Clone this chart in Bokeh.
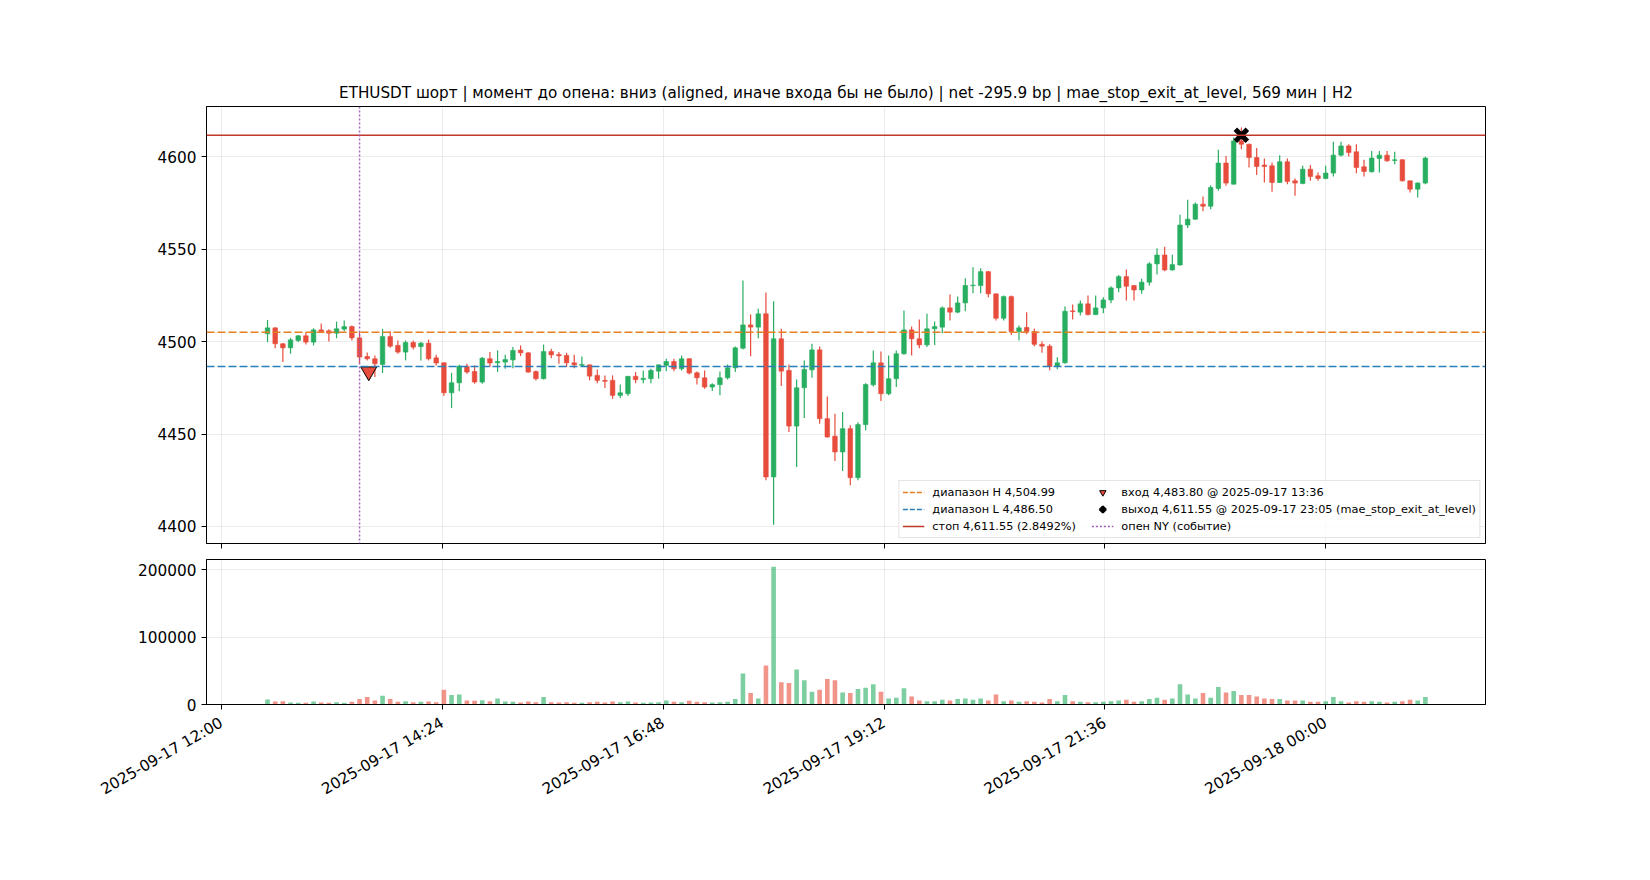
import math
import pandas as pd
from bokeh.plotting import figure
from bokeh.models import (ColumnDataSource, Range1d, FixedTicker, Span, Legend,
                          LegendItem, BasicTickFormatter)
from bokeh.layouts import column
from bokeh.embed import file_html
from bokeh.resources import INLINE

FONT = "DejaVu Sans"

# ---------------- data ----------------
first_bar = "2025-09-17 12:30"
n_bars = 152
bar_minutes = 5

opens = [4504.2, 4507.4, 4498.8, 4496.6, 4500.6, 4503.1, 4499.7, 4506.3, 4505.8, 4504.5,
         4506.7, 4508.1, 4502.0, 4491.9, 4490.7, 4487.6, 4502.7, 4497.9, 4494.3, 4499.5,
         4497.3, 4499.1, 4491.2, 4488.5, 4472.3, 4477.7, 4486.6, 4483.8, 4478.1, 4490.7,
         4488.5, 4488.9, 4490.1, 4495.4, 4493.9, 4483.8, 4479.9, 4494.6, 4493.0, 4492.5,
         4488.5, 4487.1, 4487.4, 4481.7, 4479.0, 4479.0, 4470.9, 4471.8, 4481.2, 4479.4,
         4479.9, 4484.0, 4487.1, 4489.2, 4485.3, 4490.7, 4483.1, 4480.4, 4475.4, 4476.7,
         4480.4, 4485.8, 4496.4, 4509.0, 4507.8, 4515.0, 4426.8, 4501.5, 4484.4, 4454.3,
         4475.0, 4484.7, 4495.5, 4458.3, 4448.8, 4440.3, 4452.9, 4426.4, 4455.1, 4476.6,
         4488.5, 4471.8, 4479.9, 4493.4, 4506.3, 4501.5, 4498.2, 4506.9, 4507.8, 4518.2,
         4515.9, 4520.9, 4530.2, 4530.3, 4537.8, 4525.8, 4512.6, 4524.3, 4505.4, 4507.6,
         4505.4, 4498.5, 4497.5, 4486.5, 4488.5, 4516.6, 4515.9, 4520.4, 4514.6, 4518.2,
         4522.5, 4529.0, 4535.1, 4530.3, 4527.9, 4532.1, 4542.0, 4546.8, 4538.7, 4541.4,
         4563.0, 4566.2, 4574.3, 4573.2, 4582.8, 4596.5, 4585.1, 4608.5, 4606.7, 4599.5,
         4595.4, 4595.0, 4586.0, 4597.2, 4586.9, 4585.5, 4593.2, 4589.6, 4588.2, 4591.1,
         4600.8, 4605.8, 4602.6, 4594.5, 4591.8, 4599.0, 4600.8, 4597.9, 4598.3, 4586.9,
         4582.4, 4585.7]
highs = [4511.7, 4507.8, 4499.2, 4502.0, 4503.5, 4504.9, 4507.2, 4509.7, 4506.7, 4510.8,
         4511.4, 4508.7, 4505.1, 4494.1, 4492.5, 4506.9, 4505.6, 4500.6, 4500.6, 4500.6,
         4499.7, 4501.1, 4492.8, 4488.8, 4483.1, 4487.4, 4488.0, 4487.1, 4491.6, 4494.3,
         4495.2, 4492.8, 4497.0, 4497.9, 4494.2, 4484.4, 4498.4, 4496.1, 4494.3, 4493.9,
         4492.8, 4491.9, 4487.6, 4484.9, 4481.7, 4481.7, 4476.8, 4481.3, 4483.5, 4484.4,
         4485.3, 4487.6, 4490.7, 4490.7, 4492.5, 4491.0, 4483.8, 4484.4, 4477.5, 4483.8,
         4487.6, 4497.3, 4533.0, 4514.6, 4517.7, 4526.5, 4521.8, 4506.9, 4487.6, 4479.5,
         4489.8, 4498.8, 4497.3, 4470.3, 4461.0, 4461.9, 4454.7, 4456.3, 4477.5, 4495.2,
         4494.6, 4492.5, 4495.2, 4516.8, 4508.1, 4511.9, 4515.0, 4510.8, 4518.9, 4525.4,
         4524.3, 4534.2, 4540.2, 4539.6, 4538.1, 4526.0, 4524.9, 4524.9, 4508.7, 4515.9,
         4507.0, 4500.0, 4498.5, 4491.5, 4518.9, 4520.0, 4522.2, 4524.9, 4524.9, 4524.0,
         4529.9, 4536.0, 4538.9, 4530.5, 4533.9, 4542.9, 4550.4, 4551.3, 4547.0, 4568.6,
         4576.7, 4575.2, 4578.5, 4584.5, 4603.7, 4600.4, 4610.3, 4615.7, 4606.9, 4604.6,
         4599.0, 4596.8, 4600.8, 4599.0, 4588.2, 4595.0, 4595.4, 4591.4, 4595.0, 4608.0,
         4608.0, 4606.7, 4606.7, 4598.3, 4603.1, 4603.1, 4603.1, 4602.6, 4598.6, 4587.0,
         4586.1, 4599.9]
lows = [4499.7, 4496.4, 4488.9, 4493.4, 4499.7, 4498.4, 4497.9, 4505.0, 4500.0, 4501.8,
        4505.6, 4500.6, 4488.0, 4489.8, 4480.8, 4483.0, 4496.6, 4493.4, 4489.8, 4495.7,
        4489.8, 4489.8, 4487.1, 4470.5, 4464.0, 4473.1, 4482.6, 4477.2, 4477.2, 4486.2,
        4483.5, 4485.3, 4485.6, 4492.1, 4483.1, 4479.0, 4479.5, 4491.0, 4488.0, 4486.2,
        4485.6, 4486.7, 4479.0, 4477.5, 4474.9, 4469.0, 4469.5, 4470.5, 4477.5, 4477.5,
        4477.5, 4479.9, 4484.0, 4484.0, 4484.4, 4482.2, 4476.8, 4474.5, 4473.2, 4470.9,
        4479.5, 4483.5, 4495.7, 4492.1, 4501.8, 4425.0, 4401.0, 4475.9, 4451.1, 4432.2,
        4458.7, 4480.4, 4455.6, 4448.0, 4435.4, 4430.0, 4422.3, 4425.0, 4452.0, 4475.7,
        4467.8, 4470.9, 4475.4, 4492.8, 4492.5, 4496.4, 4497.0, 4498.2, 4504.5, 4511.4,
        4515.3, 4516.4, 4526.1, 4526.1, 4524.0, 4511.4, 4511.4, 4503.6, 4500.6, 4504.0,
        4497.5, 4494.0, 4484.5, 4485.0, 4488.0, 4511.9, 4514.1, 4514.1, 4514.4, 4515.3,
        4520.7, 4526.7, 4522.2, 4522.2, 4525.8, 4530.3, 4536.2, 4538.0, 4538.4, 4541.1,
        4561.4, 4565.9, 4570.5, 4571.5, 4581.5, 4584.2, 4585.1, 4604.0, 4594.1, 4590.0,
        4586.0, 4581.0, 4585.7, 4585.1, 4578.8, 4585.1, 4586.9, 4586.9, 4587.8, 4589.3,
        4600.1, 4600.1, 4591.0, 4589.3, 4591.4, 4591.4, 4597.2, 4595.9, 4586.6, 4580.6,
        4577.9, 4585.1]
closes = [4507.4, 4498.8, 4496.6, 4500.9, 4503.1, 4499.7, 4506.3, 4505.4, 4504.5, 4506.9,
          4508.1, 4502.0, 4491.6, 4490.7, 4488.0, 4502.7, 4497.5, 4494.3, 4499.5, 4497.0,
          4499.1, 4490.7, 4488.4, 4472.3, 4477.7, 4486.7, 4483.5, 4478.1, 4491.0, 4488.4,
          4489.2, 4490.3, 4495.2, 4493.9, 4483.5, 4479.9, 4494.6, 4492.8, 4492.3, 4488.5,
          4487.4, 4487.6, 4481.3, 4479.0, 4478.5, 4470.9, 4472.3, 4481.2, 4479.4, 4480.1,
          4484.4, 4487.4, 4489.2, 4485.3, 4490.7, 4483.0, 4480.4, 4475.4, 4476.7, 4480.4,
          4485.8, 4496.6, 4509.0, 4507.8, 4515.0, 4426.8, 4501.5, 4484.0, 4454.3, 4475.0,
          4484.9, 4495.5, 4458.3, 4448.4, 4440.3, 4452.9, 4426.4, 4455.1, 4476.8, 4488.5,
          4471.8, 4479.9, 4493.4, 4506.3, 4501.5, 4498.2, 4506.9, 4508.1, 4518.2, 4515.9,
          4520.9, 4530.3, 4530.5, 4537.8, 4525.8, 4512.6, 4524.3, 4505.4, 4507.4, 4505.4,
          4498.5, 4497.5, 4486.5, 4488.5, 4516.4, 4516.2, 4520.4, 4514.6, 4518.2, 4522.5,
          4529.0, 4535.1, 4529.9, 4527.9, 4532.1, 4542.0, 4546.8, 4538.7, 4541.6, 4563.0,
          4566.2, 4574.3, 4573.2, 4583.3, 4596.5, 4585.7, 4608.5, 4606.7, 4599.5, 4594.7,
          4594.7, 4586.0, 4597.2, 4586.6, 4585.7, 4593.2, 4589.3, 4588.2, 4591.1, 4600.8,
          4605.8, 4602.2, 4594.1, 4592.0, 4599.2, 4600.8, 4597.7, 4598.3, 4586.9, 4582.4,
          4585.7, 4599.2]
volumes = [7500, 4500, 5000, 3000, 2500, 2500, 4500, 3000, 2500, 3500,
           2500, 4000, 8000, 11000, 6000, 13000, 8000, 4000, 5000, 3500,
           4000, 4500, 3500, 22000, 14000, 15000, 6000, 5500, 6500, 5000,
           9000, 4500, 4000, 3000, 4500, 3500, 11000, 3500, 3000, 3500,
           2500, 2500, 3500, 4000, 3000, 4500, 3500, 4500, 3000, 2500,
           3000, 3500, 6000, 4000, 3500, 5500, 4000, 3500, 3000, 3500,
           4000, 8000, 46000, 17000, 9000, 58000, 205000, 33000, 32000, 52000,
           36000, 19000, 22000, 38000, 36000, 18000, 17000, 23000, 25000, 30000,
           19000, 9000, 10000, 24000, 12000, 6000, 5000, 5000, 7000, 6000,
           8000, 9000, 7000, 9000, 6000, 15000, 5000, 6000, 4000, 5000,
           4000, 3000, 8000, 5000, 14000, 5000, 4000, 3500, 3500, 4000,
           5000, 6000, 7000, 4000, 5000, 8000, 10000, 7000, 9000, 30000,
           15000, 9000, 17000, 10000, 26000, 18000, 20000, 14000, 14000, 12000,
           9000, 8000, 8000, 6000, 6000, 6000, 4000, 4000, 5000, 11000,
           5000, 3000, 5000, 4000, 5000, 4000, 3000, 4000, 5000, 7000,
           6000, 11000]

range_high = 4504.99
range_low = 4486.50
stop_level = 4611.55
stop_pct = "2.8492%"
entry_price = 4483.80
entry_time = "2025-09-17 13:36"
exit_price = 4611.55
exit_time = "2025-09-17 23:05"
exit_reason = "mae_stop_exit_at_level"
ny_open_time = "2025-09-17 13:30"

tick_labels = ["2025-09-17 12:00", "2025-09-17 14:24", "2025-09-17 16:48",
               "2025-09-17 19:12", "2025-09-17 21:36", "2025-09-18 00:00"]
price_ticks = [4400, 4450, 4500, 4550, 4600]
volume_ticks = [0, 100000, 200000]

title_text = ("ETHUSDT шорт | момент до опена: вниз (aligned, иначе входа бы не было) | "
              "net -295.9 bp | mae_stop_exit_at_level, 569 мин | H2")

# ---------------- helpers ----------------
origin = pd.Timestamp("2025-09-17 12:00")


def to_min(ts):
    return (pd.Timestamp(ts) - origin).total_seconds() / 60.0


times = pd.date_range(first_bar, periods=n_bars, freq=f"{bar_minutes}min")
xs = [(t - origin).total_seconds() / 60.0 for t in times]

GREEN = "#27ae60"
RED = "#e74c3c"
colors = [GREEN if c >= o else RED for o, c in zip(opens, closes)]

src = ColumnDataSource(dict(
    x=xs, open=opens, high=highs, low=lows, close=closes,
    top=[max(o, c) for o, c in zip(opens, closes)],
    bottom=[min(o, c) for o, c in zip(opens, closes)],
    vol=volumes, color=colors,
))

tick_x = [to_min(t) for t in tick_labels]

x_range = Range1d(-9.8, 824.2)

W = 1642
LEFT = 206
RIGHT = W - LEFT - 1279
TICK_FONT = "15.3px"
PURPLE = "#9b59b6"


def style(fig):
    fig.outline_line_color = "black"
    fig.outline_line_width = 1
    fig.background_fill_color = "white"
    fig.border_fill_color = "white"
    for ax in fig.axis:
        ax.axis_line_color = "black"
        ax.axis_line_width = 1
        ax.major_tick_line_color = "black"
        ax.major_tick_line_width = 1
        ax.major_tick_out = 5
        ax.major_tick_in = 0
        ax.minor_tick_line_color = None
        ax.major_label_text_font = FONT
        ax.major_label_text_font_size = TICK_FONT
        ax.major_label_text_color = "black"
        ax.major_label_standoff = 5
    for g in fig.grid:
        g.grid_line_color = "#b0b0b0"
        g.grid_line_alpha = 0.3
        g.grid_line_width = 0.8


# ---------------- main price figure ----------------
p = figure(width=W, height=106 + 437 + 12, x_range=x_range, y_range=Range1d(4390.8, 4627.1),
           output_backend="svg", toolbar_location=None,
           min_border_left=LEFT, min_border_right=RIGHT, min_border_top=106, min_border_bottom=12)
p.title.text = title_text
p.title.align = "center"
p.title.text_font = FONT
p.title.text_font_size = "15.2px"
p.title.text_font_style = "normal"
p.title.text_color = "black"
p.title.standoff = 9

p.segment(x0="x", y0="low", x1="x", y1="high", source=src, line_color="color", line_width=1.2)
p.vbar(x="x", width=3.0, top="top", bottom="bottom", source=src,
       fill_color="color", line_color="color", line_width=0.6)

p.add_layout(Span(location=range_high, dimension="width", line_color="#e67e22",
                  line_dash="8 3", line_width=1.6))
p.add_layout(Span(location=range_low, dimension="width", line_color="#2980b9",
                  line_dash="8 3", line_width=1.6))
p.add_layout(Span(location=stop_level, dimension="width", line_color="#c0392b",
                  line_width=1.6))
p.add_layout(Span(location=to_min(ny_open_time), dimension="height", line_color=PURPLE,
                  line_dash="2 2", line_width=1.5, line_alpha=0.9))

nan = float("nan")
legend_src = ColumnDataSource(dict(x=[nan], y=[nan]))
r_h = p.line("x", "y", source=legend_src, line_color="#e67e22", line_dash="5 2", line_width=1.6)
r_l = p.line("x", "y", source=legend_src, line_color="#2980b9", line_dash="5 2", line_width=1.6)
r_s = p.line("x", "y", source=legend_src, line_color="#c0392b", line_width=1.6)
r_ny = p.line("x", "y", source=legend_src, line_color=PURPLE, line_dash="2 2", line_width=1.5)

r_entry = p.scatter(x=[to_min(entry_time)], y=[entry_price], marker="inverted_triangle", size=16,
                    fill_color=RED, line_color="black", line_width=1)
r_exit = p.scatter(x=[to_min(exit_time)], y=[exit_price], marker="x", size=17,
                   line_color="black", line_width=5)

legend = Legend(items=[
    LegendItem(label=f"диапазон H {range_high:,.2f}", renderers=[r_h]),
    LegendItem(label=f"диапазон L {range_low:,.2f}", renderers=[r_l]),
    LegendItem(label=f"стоп {stop_level:,.2f} ({stop_pct})", renderers=[r_s]),
    LegendItem(label=f"вход {entry_price:,.2f} @ {entry_time}", renderers=[r_entry]),
    LegendItem(label=f"выход {exit_price:,.2f} @ {exit_time} ({exit_reason})", renderers=[r_exit]),
    LegendItem(label="опен NY (событие)", renderers=[r_ny]),
], location="bottom_right", nrows=3)
legend.label_text_font = FONT
legend.label_text_font_size = "11.3px"
legend.label_text_color = "black"
legend.glyph_width = 22
legend.glyph_height = 16
legend.label_height = 16
legend.label_width = 158
legend.label_standoff = 8
legend.spacing = 1
legend.padding = 3
legend.margin = 5
legend.border_line_color = "#cccccc"
legend.background_fill_alpha = 0.8
p.add_layout(legend)

p.yaxis.ticker = FixedTicker(ticks=price_ticks)
p.xaxis.ticker = FixedTicker(ticks=tick_x)
style(p)
p.xaxis.major_label_overrides = {tx: "" for tx in tick_x}
p.xaxis.major_label_standoff = 0

# ---------------- volume figure ----------------
p2 = figure(width=W, height=4 + 145 + 110, x_range=x_range, y_range=Range1d(0, 215600),
            output_backend="svg", toolbar_location=None,
            min_border_left=LEFT, min_border_right=RIGHT, min_border_top=4, min_border_bottom=110)
p2.vbar(x="x", width=3.0, top="vol", bottom=0, source=src, fill_color="color",
        line_color=None, fill_alpha=0.6)
p2.yaxis.ticker = FixedTicker(ticks=volume_ticks)
p2.yaxis.formatter = BasicTickFormatter(use_scientific=False)
p2.xaxis.ticker = FixedTicker(ticks=tick_x)
p2.xaxis.major_label_overrides = {tx: lab for tx, lab in zip(tick_x, tick_labels)}
p2.xaxis.major_label_orientation = math.pi / 6
style(p2)
p2.xaxis.major_label_standoff = 12

layout = column(p, p2, spacing=0)
open("out.html", "w").write(file_html(layout, INLINE))
